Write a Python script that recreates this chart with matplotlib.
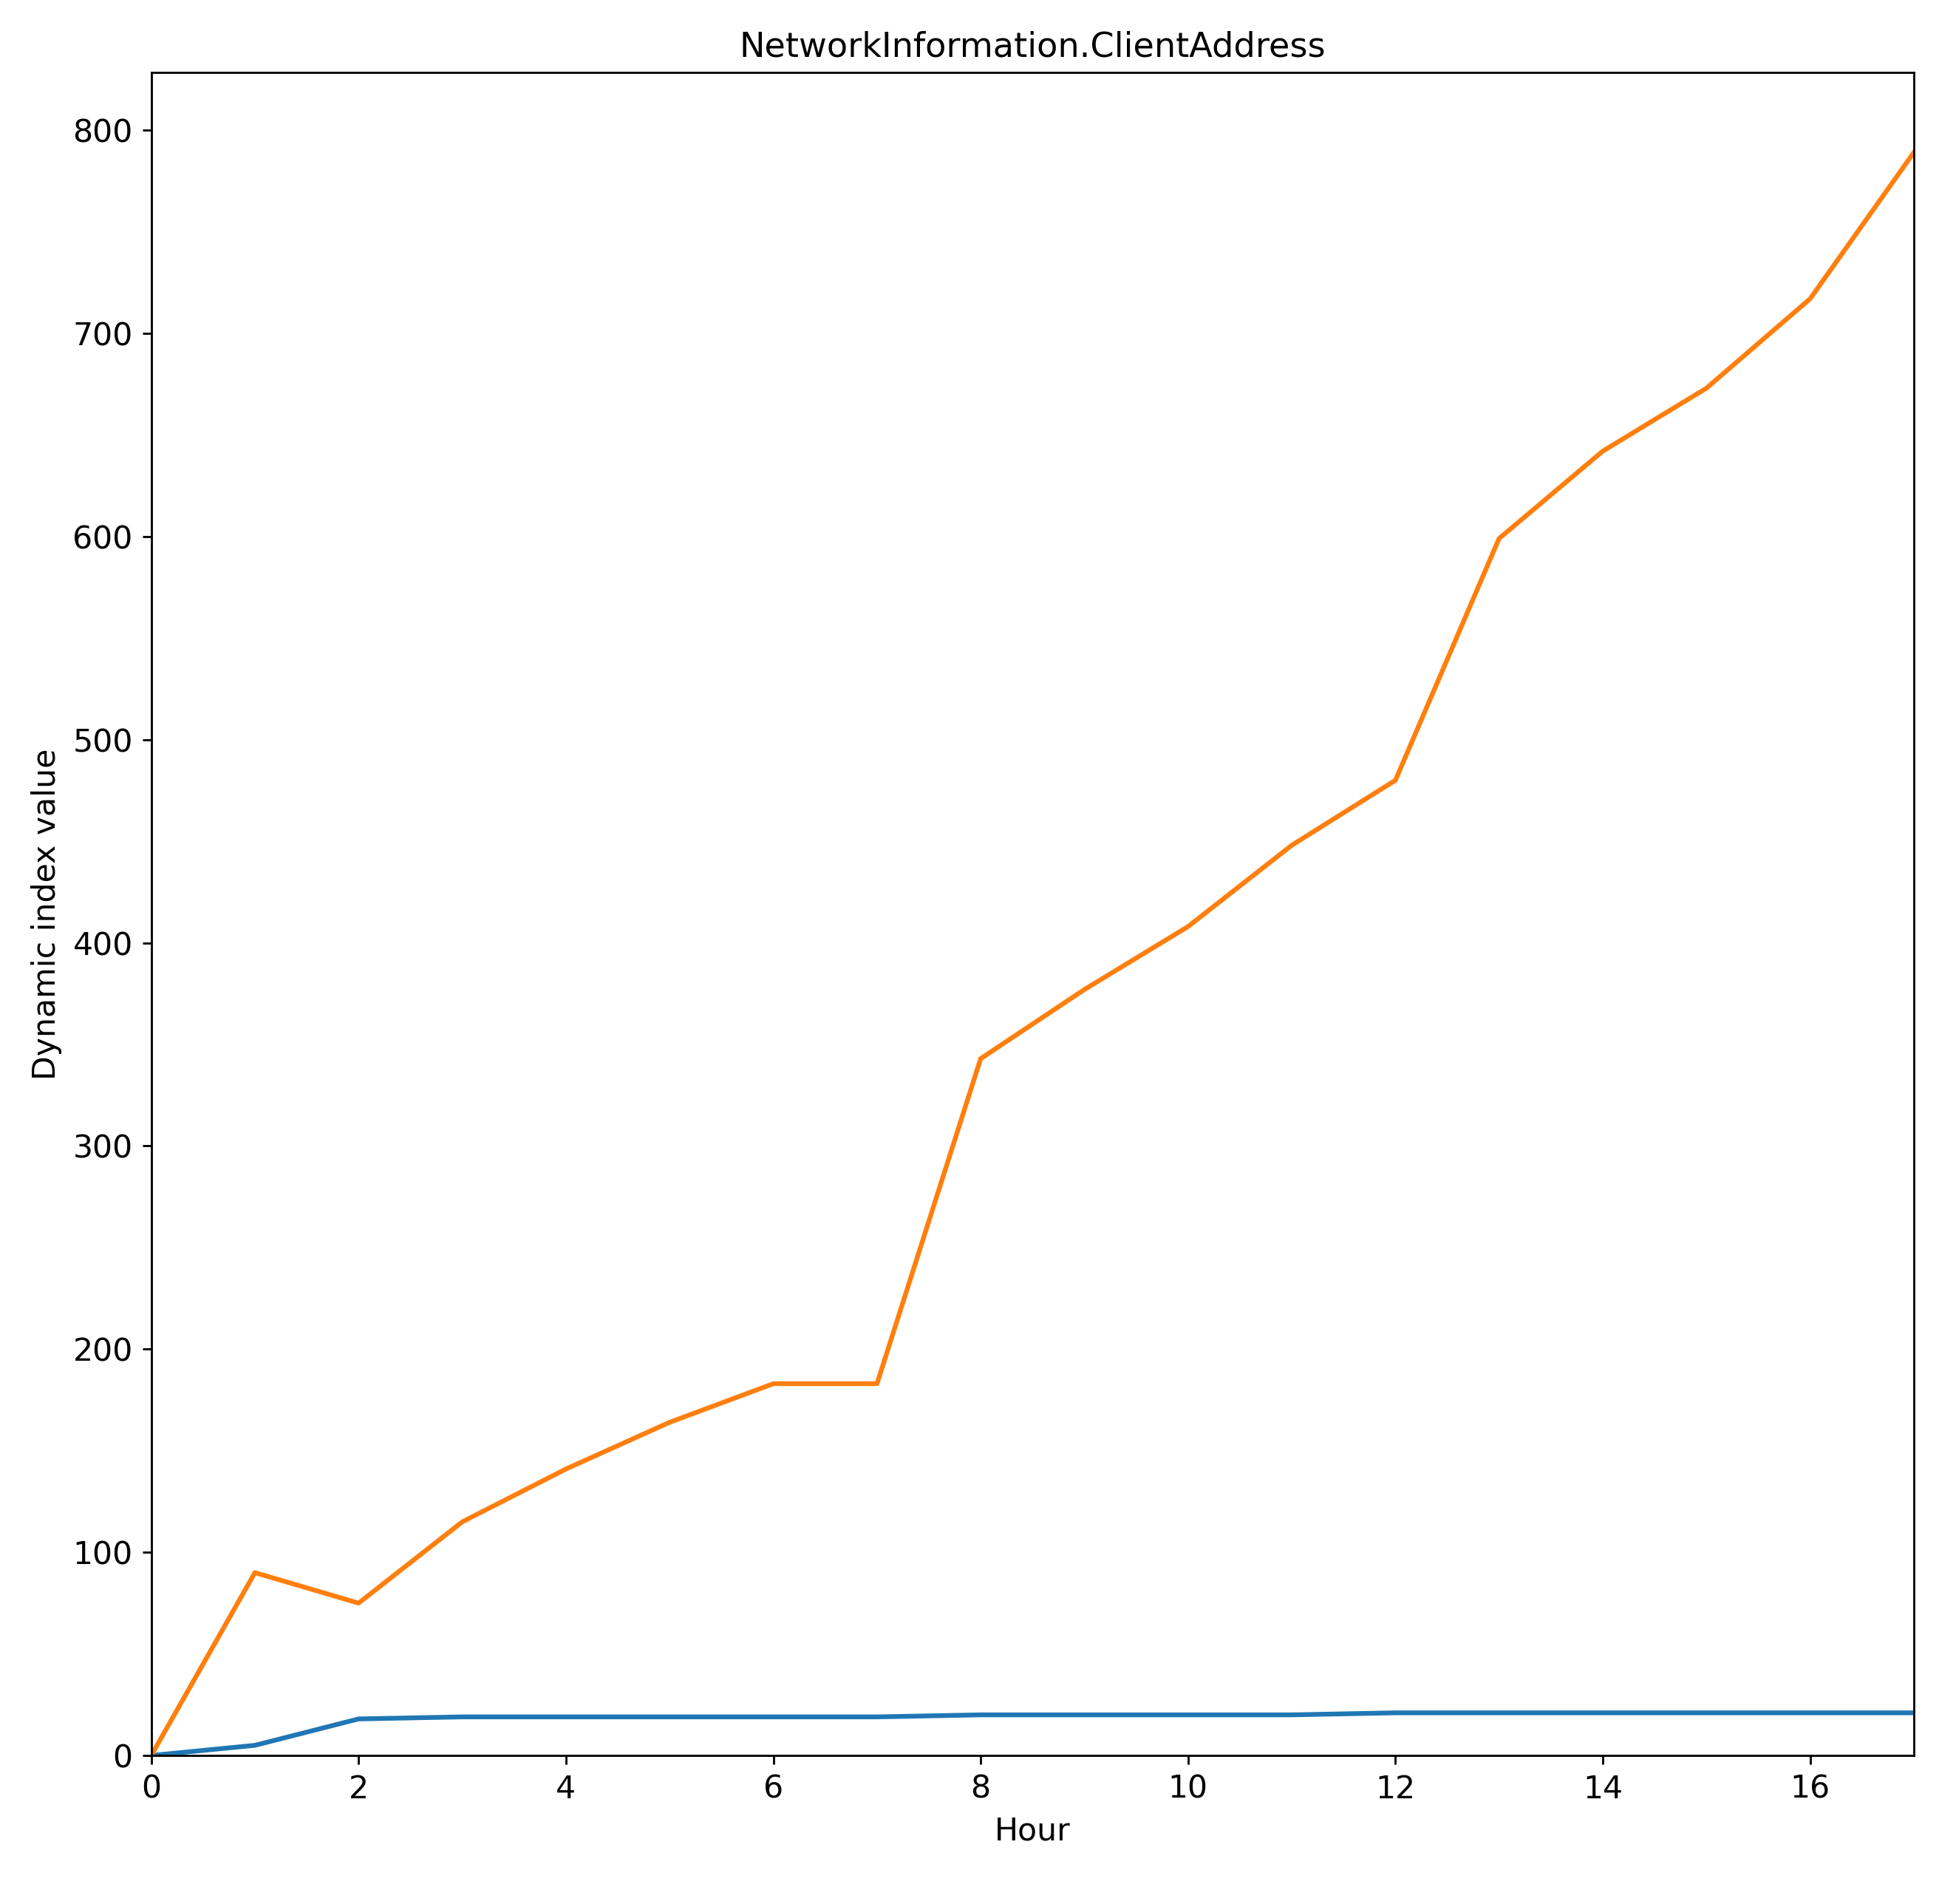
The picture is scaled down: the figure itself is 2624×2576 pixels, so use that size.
import matplotlib
matplotlib.use("Agg")
import matplotlib.pyplot as plt

plt.rcParams['font.size'] = 12

hours = list(range(18))
blue = [0, 5, 18, 19, 19, 19, 19, 19, 20, 20, 20, 20, 21, 21, 21, 21, 21, 21]
orange = [0, 90, 75, 115, 141, 164, 183, 183, 343, 377, 408, 448, 480, 599, 642, 673, 717, 789]

fig, ax = plt.subplots(figsize=(10.25, 10.0625), dpi=256)
ax.plot(hours, blue, lw=1.8)
ax.plot(hours, orange, lw=1.8)
ax.set_xlim(0, 17)
ax.set_ylim(bottom=0)
ax.set_title("NetworkInformation.ClientAddress", fontsize=13)
ax.set_xlabel("Hour")
ax.set_ylabel("Dynamic index value")
fig.subplots_adjust(left=0.078, right=0.987, top=0.962, bottom=0.078)
fig.savefig("out.png")
